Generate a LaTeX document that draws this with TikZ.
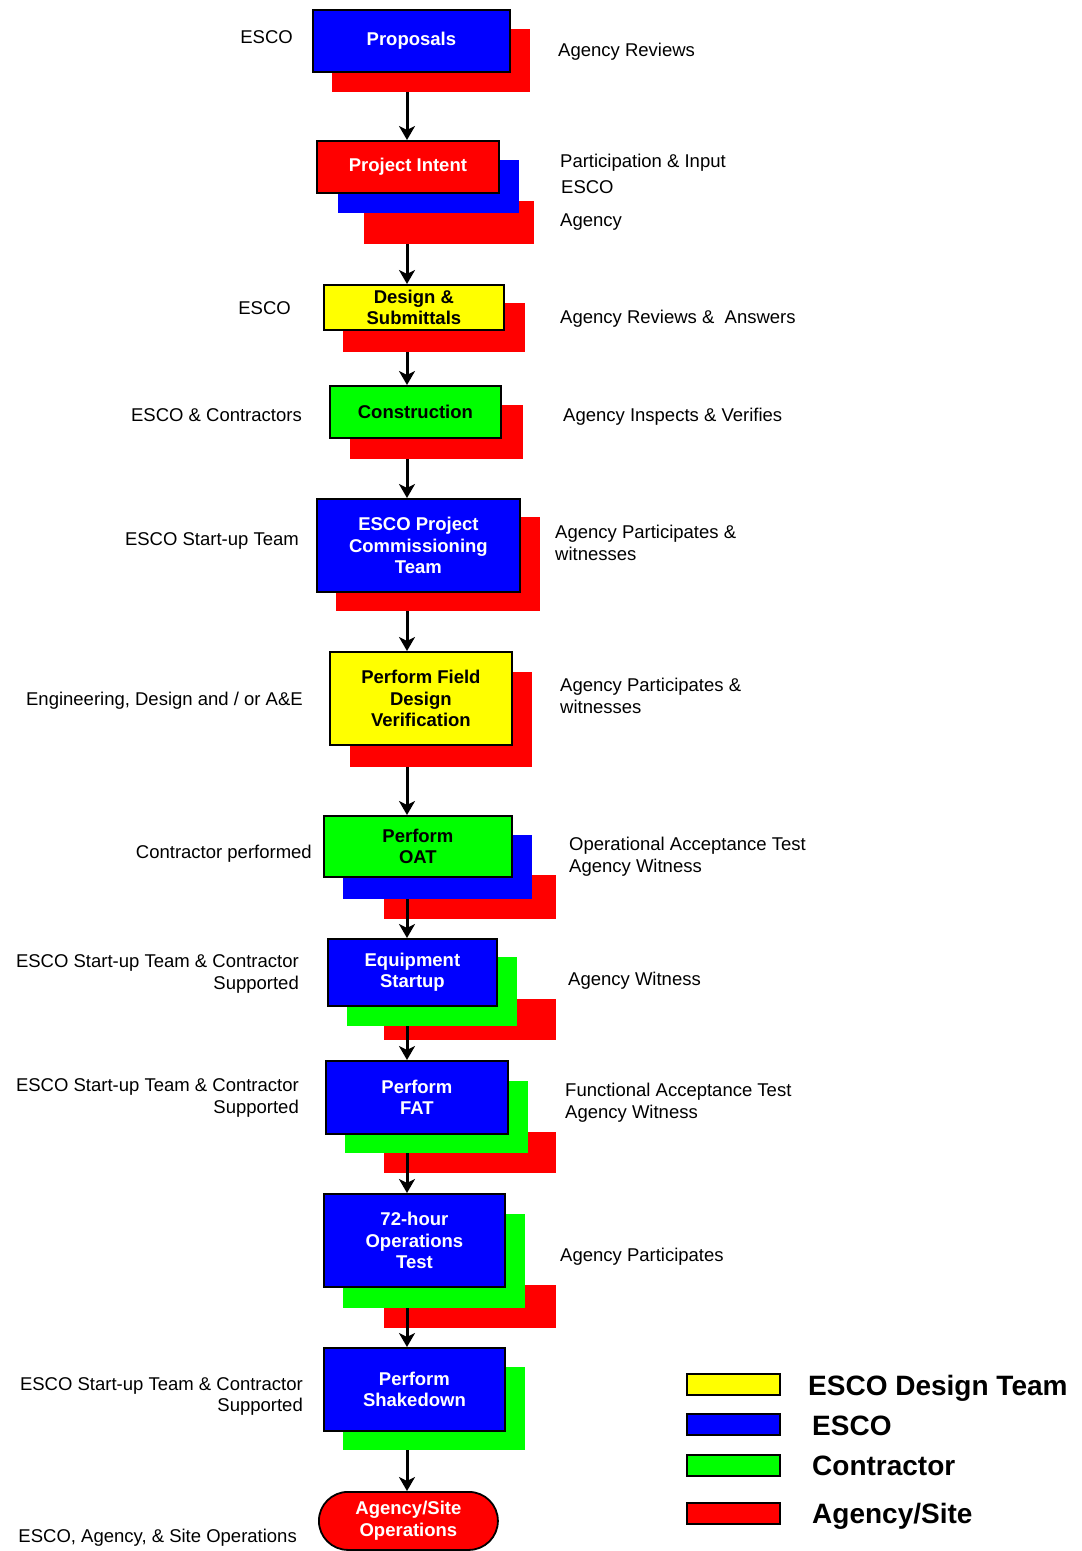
\documentclass[tikz,border=0pt]{standalone}
\usepackage{fontspec}
\setmainfont{Liberation Sans}
\usetikzlibrary{arrows.meta}
\definecolor{cred}{RGB}{255,0,0}
\definecolor{cblue}{RGB}{0,0,255}
\definecolor{cgreen}{RGB}{0,255,0}
\definecolor{cyellow}{RGB}{255,255,0}
\tikzset{
  frontbox/.style={draw=black, line width=1.8pt, anchor=north west, inner sep=0pt, align=center,
     font=\bfseries\fontsize{18.5}{21.5}\selectfont},
  backbox/.style={anchor=north west, inner sep=0pt, draw=none},
  flow/.style={line width=3pt, -{Stealth[width=16pt,length=14pt,inset=4pt]}},
  lbl/.style={inner sep=0pt, font=\fontsize{18.5}{22}\selectfont},
  lgtxt/.style={inner sep=0pt, anchor=base west, font=\bfseries\fontsize{28}{32}\selectfont},
  swatch/.style={draw=black, line width=1.8pt, anchor=north west, inner sep=0pt, minimum width=93pt, minimum height=21pt}
}
\begin{document}
\begin{tikzpicture}[x=1pt,y=-1pt]
\useasboundingbox (0,0) rectangle (1082,1551);
\coordinate (ax) at (407,0);

% 1 Proposals
\node[backbox, fill=cred, minimum width=198pt, minimum height=63pt] (p1r) at (332,29) {};
\node[frontbox, fill=cblue, text=white, minimum width=197pt, minimum height=62pt] (p1) at (312,9) {Proposals};

% 2 Project Intent
\node[backbox, fill=cred, minimum width=170pt, minimum height=43pt] (p2r) at (364,201) {};
\node[backbox, fill=cblue, minimum width=181pt, minimum height=53pt] (p2b) at (338,160) {};
\node[frontbox, fill=cred, text=white, minimum width=182pt, minimum height=52pt] (p2) at (316,140) {Project Intent};

% 3 Design & Submittals
\node[backbox, fill=cred, minimum width=182pt, minimum height=49pt] (p3r) at (343,303) {};
\node[frontbox, fill=cyellow, text=black, minimum width=180pt, minimum height=45pt] (p3) at (323,284) {Design \&\\Submittals};

% 4 Construction
\node[backbox, fill=cred, minimum width=173pt, minimum height=54pt] (p4r) at (350,405) {};
\node[frontbox, fill=cgreen, text=black, minimum width=171pt, minimum height=52pt] (p4) at (329,385) {Construction};

% 5 ESCO Project Commissioning Team
\node[backbox, fill=cred, minimum width=204pt, minimum height=94pt] (p5r) at (336,517) {};
\node[frontbox, fill=cblue, text=white, minimum width=203pt, minimum height=93pt] (p5) at (316,498) {ESCO Project\\Commissioning\\Team};

% 6 Perform Field Design Verification
\node[backbox, fill=cred, minimum width=182pt, minimum height=95pt] (p6r) at (350,672) {};
\node[frontbox, fill=cyellow, text=black, minimum width=182pt, minimum height=93pt] (p6) at (329,651) {Perform Field\\Design\\Verification};

% 7 Perform OAT
\node[backbox, fill=cred, minimum width=172pt, minimum height=44pt] (p7r) at (384,875) {};
\node[backbox, fill=cblue, minimum width=189pt, minimum height=64pt] (p7b) at (343,835) {};
\node[frontbox, fill=cgreen, text=black, minimum width=188pt, minimum height=61pt] (p7) at (323,815) {Perform\\OAT};

% 8 Equipment Startup
\node[backbox, fill=cred, minimum width=172pt, minimum height=41pt] (p8r) at (384,999) {};
\node[backbox, fill=cgreen, minimum width=170pt, minimum height=69pt] (p8g) at (347,957) {};
\node[frontbox, fill=cblue, text=white, minimum width=169pt, minimum height=67pt] (p8) at (327,938) {Equipment\\Startup};

% 9 Perform FAT
\node[backbox, fill=cred, minimum width=172pt, minimum height=41pt] (p9r) at (384,1132) {};
\node[backbox, fill=cgreen, minimum width=183pt, minimum height=72pt] (p9g) at (345,1081) {};
\node[frontbox, fill=cblue, text=white, minimum width=182pt, minimum height=73pt] (p9) at (325,1060) {Perform\\FAT};

% 10 72-hour Operations Test
\node[backbox, fill=cred, minimum width=172pt, minimum height=43pt] (p10r) at (384,1285) {};
\node[backbox, fill=cgreen, minimum width=182pt, minimum height=94pt] (p10g) at (343,1214) {};
\node[frontbox, fill=cblue, text=white, minimum width=181pt, minimum height=93pt] (p10) at (323,1193) {72-hour\\Operations\\Test};

% 11 Perform Shakedown
\node[backbox, fill=cgreen, minimum width=182pt, minimum height=83pt] (p11g) at (343,1367) {};
\node[frontbox, fill=cblue, text=white, minimum width=181pt, minimum height=83pt] (p11) at (323,1347) {Perform\\Shakedown};

% 12 Terminal
\node[frontbox, fill=cred, text=white, rounded corners=29pt, minimum width=179pt, minimum height=58pt] (p12) at (318,1491) {Agency/Site\\Operations};

% arrows
\draw[flow] (p1r.south -| ax) -- (p2.north -| ax);
\draw[flow] (p2r.south -| ax) -- (p3.north -| ax);
\draw[flow] (p3r.south -| ax) -- (p4.north -| ax);
\draw[flow] (p4r.south -| ax) -- (p5.north -| ax);
\draw[flow] (p5r.south -| ax) -- (p6.north -| ax);
\draw[flow] (p6r.south -| ax) -- (p7.north -| ax);
\draw[flow] (p7b.south -| ax) -- (p8.north -| ax);
\draw[flow] (p8g.south -| ax) -- (p9.north -| ax);
\draw[flow] (p9g.south -| ax) -- (p10.north -| ax);
\draw[flow] (p10g.south -| ax) -- (p11.north -| ax);
\draw[flow] (p11g.south -| ax) -- (p12.north -| ax);

% left labels
\node[lbl, anchor=base east] (l1) at (293,43) {ESCO};
\node[lbl, anchor=base east] (l3) at (291,314) {ESCO};
\node[lbl, anchor=base east] (l4) at (302,421) {ESCO \& Contractors};
\node[lbl, anchor=base east] (l5) at (299,545) {ESCO Start-up Team};
\node[lbl, anchor=base east] (l6) at (303,705) {Engineering, Design and / or A\&E};
\node[lbl, anchor=base east] (l7) at (312,858) {Contractor performed};
\node[lbl, anchor=base east] (l8a) at (299,967) {ESCO Start-up Team \& Contractor};
\node[lbl, anchor=base east] (l8b) at (299,989) {Supported};
\node[lbl, anchor=base east] (l9a) at (299,1091) {ESCO Start-up Team \& Contractor};
\node[lbl, anchor=base east] (l9b) at (299,1113) {Supported};
\node[lbl, anchor=base east] (l11a) at (303,1390) {ESCO Start-up Team \& Contractor};
\node[lbl, anchor=base east] (l11b) at (303,1411) {Supported};
\node[lbl, anchor=base east] (l12) at (297,1542) {ESCO, Agency, \& Site Operations};

% right labels
\node[lbl, anchor=base west] (r1) at (558,56) {Agency Reviews};
\node[lbl, anchor=base west] (r2a) at (560,167) {Participation \& Input};
\node[lbl, anchor=base west] (r2b) at (561,193) {ESCO};
\node[lbl, anchor=base west] (r2c) at (560,226) {Agency};
\node[lbl, anchor=base west] (r3) at (560,323) {Agency Reviews \&~~Answers};
\node[lbl, anchor=base west] (r4) at (563,421) {Agency Inspects \& Verifies};
\node[lbl, anchor=base west] (r5a) at (555,538) {Agency Participates \&};
\node[lbl, anchor=base west] (r5b) at (555,560) {witnesses};
\node[lbl, anchor=base west] (r6a) at (560,691) {Agency Participates \&};
\node[lbl, anchor=base west] (r6b) at (560,713) {witnesses};
\node[lbl, anchor=base west] (r7a) at (569,850) {Operational Acceptance Test};
\node[lbl, anchor=base west] (r7b) at (569,872) {Agency Witness};
\node[lbl, anchor=base west] (r8) at (568,985) {Agency Witness};
\node[lbl, anchor=base west] (r9a) at (565,1096) {Functional Acceptance Test};
\node[lbl, anchor=base west] (r9b) at (565,1118) {Agency Witness};
\node[lbl, anchor=base west] (r10) at (560,1261) {Agency Participates};

% legend
\node[swatch, fill=cyellow] (sw1) at (686,1373) {};
\node[swatch, fill=cblue] (sw2) at (686,1413) {};
\node[swatch, fill=cgreen] (sw3) at (686,1454) {};
\node[swatch, fill=cred] (sw4) at (686,1502) {};
\node[lgtxt] (lg1) at (808,1395) {ESCO Design Team};
\node[lgtxt] (lg2) at (812,1435) {ESCO};
\node[lgtxt] (lg3) at (812,1475) {Contractor};
\node[lgtxt] (lg4) at (812,1523) {Agency/Site};
\end{tikzpicture}
\end{document}
